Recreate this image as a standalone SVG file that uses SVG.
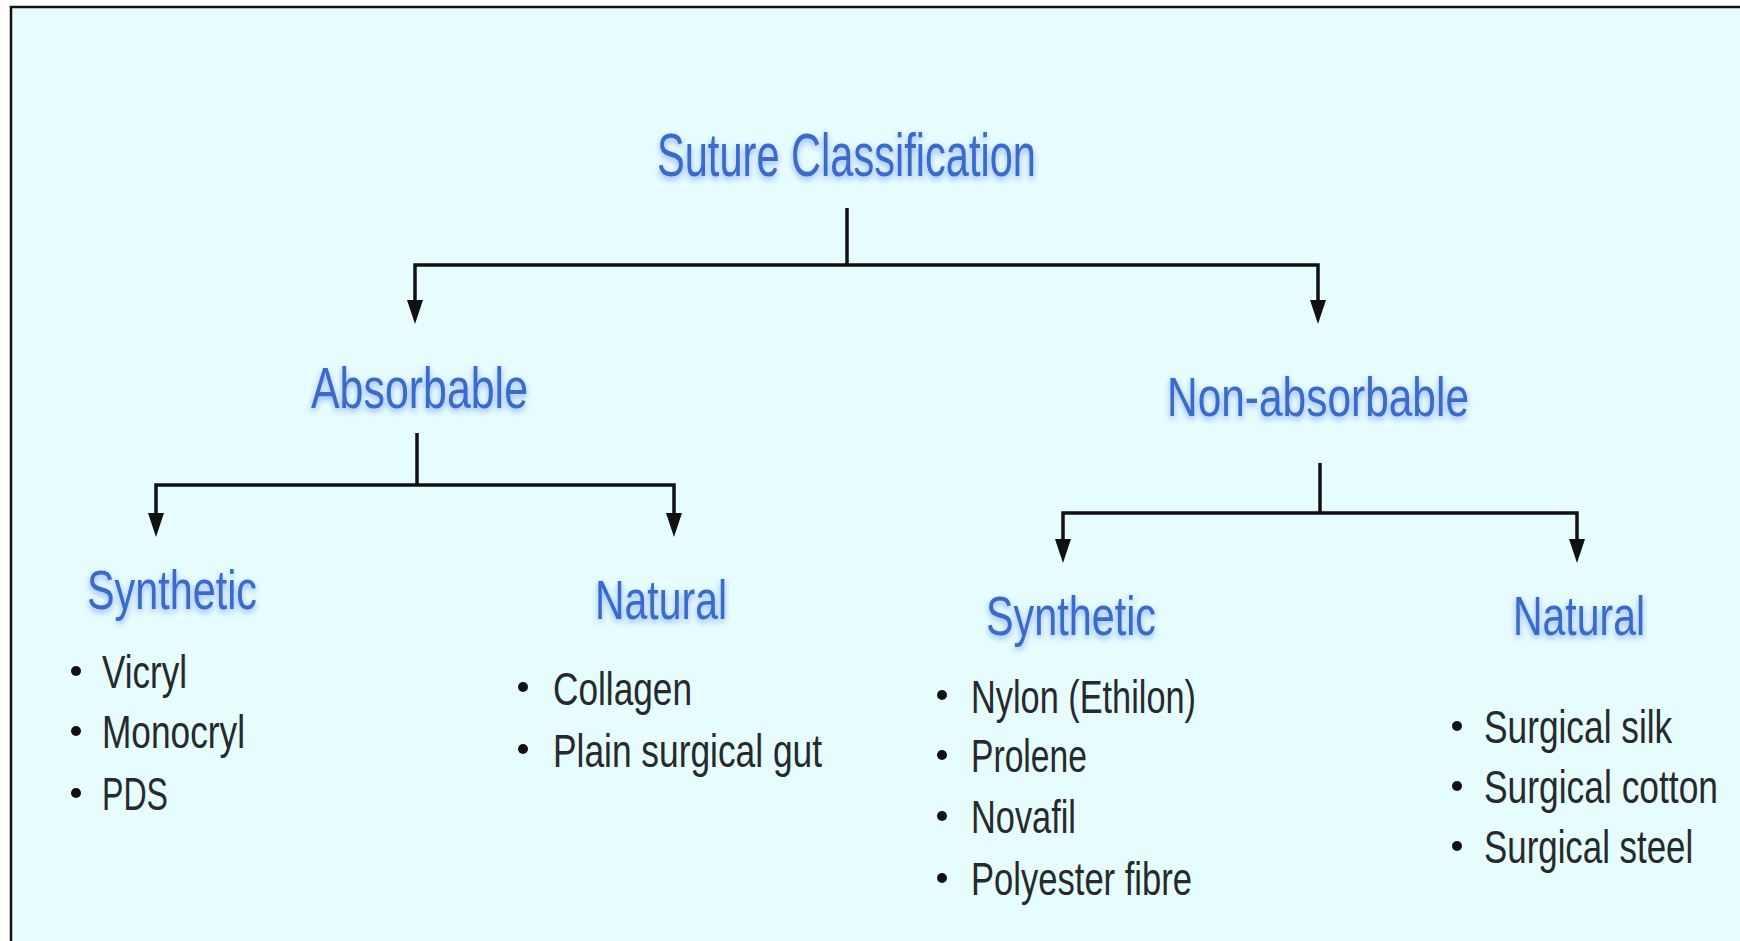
<svg xmlns="http://www.w3.org/2000/svg" width="1740" height="941" viewBox="0 0 1740 941">
<style>
.h{font-family:"Liberation Sans",Arial,sans-serif;fill:#3b6acb;filter:url(#glow)}
.t{font-family:"Liberation Sans",Arial,sans-serif;fill:#26292d;font-size:47px}
.b{fill:#111}
.c{fill:none;stroke:#111;stroke-width:3.5}
</style>
<defs>
<filter id="glow" x="-15%" y="-40%" width="130%" height="190%">
<feGaussianBlur in="SourceAlpha" stdDeviation="3"/>
<feOffset dy="3" result="bl"/>
<feFlood flood-color="#4a7cff" flood-opacity="0.6"/>
<feComposite in2="bl" operator="in" result="sh"/>
<feMerge><feMergeNode in="sh"/><feMergeNode in="SourceGraphic"/></feMerge>
</filter>
<marker id="arr" viewBox="0 0 24 16" markerWidth="24" markerHeight="16" refX="18" refY="8" orient="auto" markerUnits="userSpaceOnUse">
<path d="M0,0 L24,8 L0,16 z" fill="#111"/>
</marker>
</defs>
<rect x="0" y="0" width="1740" height="941" fill="#ffffff"/>
<rect x="11" y="7" width="1729" height="934" fill="#e7fdfd"/>
<path d="M11,941 V7 H1740" fill="none" stroke="#111" stroke-width="2.5"/>

<g id="connectors">
<path class="c" d="M847,208 V265"/>
<path class="c" d="M847,265 H415 V318" marker-end="url(#arr)"/>
<path class="c" d="M847,265 H1318 V318" marker-end="url(#arr)"/>
<path class="c" d="M417,433 V485"/>
<path class="c" d="M417,485 H156 V531" marker-end="url(#arr)"/>
<path class="c" d="M417,485 H674 V531" marker-end="url(#arr)"/>
<path class="c" d="M1320,463 V513"/>
<path class="c" d="M1320,513 H1063 V557" marker-end="url(#arr)"/>
<path class="c" d="M1320,513 H1577 V557" marker-end="url(#arr)"/>
</g>

<g id="root">
<text class="h" x="657" y="176" font-size="61" textLength="379" lengthAdjust="spacingAndGlyphs">Suture Classification</text>
</g>
<g id="absorbable">
<text class="h" x="311" y="408" font-size="57" textLength="217" lengthAdjust="spacingAndGlyphs">Absorbable</text>
</g>
<g id="non-absorbable">
<text class="h" x="1167" y="416" font-size="55" textLength="302" lengthAdjust="spacingAndGlyphs">Non-absorbable</text>
</g>
<g id="abs-synthetic">
<text class="h" x="87" y="609" font-size="56" textLength="170" lengthAdjust="spacingAndGlyphs">Synthetic</text>
<circle class="b" cx="76" cy="671" r="5"/>
<circle class="b" cx="76" cy="731" r="5"/>
<circle class="b" cx="76" cy="793" r="5"/>
<text class="t" x="102" y="688" textLength="85" lengthAdjust="spacingAndGlyphs">Vicryl</text>
<text class="t" x="102" y="748" textLength="143" lengthAdjust="spacingAndGlyphs">Monocryl</text>
<text class="t" x="102" y="810" textLength="66" lengthAdjust="spacingAndGlyphs">PDS</text>
</g>
<g id="abs-natural">
<text class="h" x="595" y="619" font-size="56" textLength="132" lengthAdjust="spacingAndGlyphs">Natural</text>
<circle class="b" cx="523" cy="687" r="5"/>
<circle class="b" cx="523" cy="749" r="5"/>
<text class="t" x="553" y="705" textLength="139" lengthAdjust="spacingAndGlyphs">Collagen</text>
<text class="t" x="553" y="767" textLength="269" lengthAdjust="spacingAndGlyphs">Plain surgical gut</text>
</g>
<g id="nonabs-synthetic">
<text class="h" x="986" y="635" font-size="56" textLength="170" lengthAdjust="spacingAndGlyphs">Synthetic</text>
<circle class="b" cx="942" cy="695" r="5"/>
<circle class="b" cx="942" cy="755" r="5"/>
<circle class="b" cx="942" cy="816" r="5"/>
<circle class="b" cx="942" cy="878" r="5"/>
<text class="t" x="971" y="713" textLength="225" lengthAdjust="spacingAndGlyphs">Nylon (Ethilon)</text>
<text class="t" x="971" y="772" textLength="116" lengthAdjust="spacingAndGlyphs">Prolene</text>
<text class="t" x="971" y="833" textLength="105" lengthAdjust="spacingAndGlyphs">Novafil</text>
<text class="t" x="971" y="895" textLength="221" lengthAdjust="spacingAndGlyphs">Polyester fibre</text>
</g>
<g id="nonabs-natural">
<text class="h" x="1513" y="635" font-size="56" textLength="132" lengthAdjust="spacingAndGlyphs">Natural</text>
<circle class="b" cx="1457" cy="726" r="5"/>
<circle class="b" cx="1457" cy="786" r="5"/>
<circle class="b" cx="1457" cy="846" r="5"/>
<text class="t" transform="translate(1484,743) scale(0.75,1)" x="0" y="0" textLength="251" lengthAdjust="spacingAndGlyphs">Surgical silk</text>
<text class="t" transform="translate(1484,803) scale(0.75,1)" x="0" y="0" textLength="312" lengthAdjust="spacingAndGlyphs">Surgical cotton</text>
<text class="t" transform="translate(1484,863) scale(0.75,1)" x="0" y="0" textLength="279" lengthAdjust="spacingAndGlyphs">Surgical steel</text>
</g>
</svg>
